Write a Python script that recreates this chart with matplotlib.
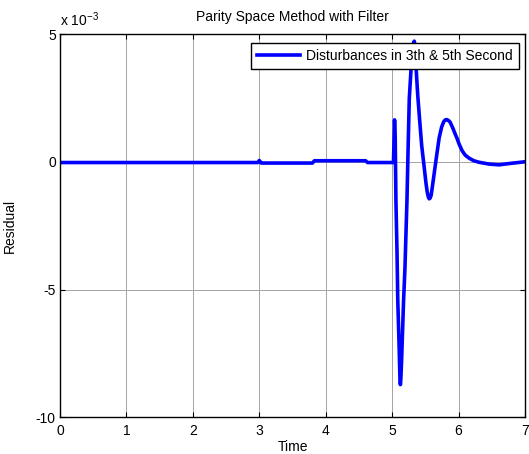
import numpy as np
import matplotlib
matplotlib.use('Agg')
import matplotlib.pyplot as plt
from matplotlib.ticker import FuncFormatter

plt.rcParams['font.family'] = ['Liberation Sans', 'DejaVu Sans']

# residual trace (values in units of 1e-3)
time = [0.0, 2.98, 3.0, 3.03, 3.06, 3.80, 3.83, 4.60, 4.63, 5.02,
        5.028, 5.036, 5.046, 5.057, 5.073, 5.085, 5.107, 5.117, 5.124, 5.132,
        5.142, 5.172, 5.193, 5.208, 5.223, 5.24, 5.258, 5.283, 5.30, 5.318,
        5.333, 5.348, 5.363, 5.386, 5.415, 5.445, 5.483, 5.51, 5.528, 5.545,
        5.558, 5.572, 5.588, 5.618, 5.659, 5.708, 5.745, 5.775, 5.80, 5.825,
        5.85, 5.873, 5.918, 5.95, 5.979, 6.01, 6.054, 6.10, 6.159, 6.23,
        6.309, 6.459, 6.61, 6.76, 7.0]
residual_milli = [-0.03, -0.03, 0.05, -0.05, -0.05, -0.05, 0.04, 0.04, -0.03, -0.03,
                  0.8, 1.64, 1.0, -1.53, -3.48, -5.44, -7.40, -8.45, -8.72, -8.45,
                  -7.79, -5.44, -4.15, -2.82, -1.53, 0.5, 2.47, 3.56, 4.25, 4.62,
                  4.72, 4.52, 3.56, 2.58, 1.60, 0.63, -0.23, -0.85, -1.18, -1.38,
                  -1.45, -1.42, -1.30, -0.74, 0.04, 0.94, 1.36, 1.56, 1.64, 1.65,
                  1.61, 1.55, 1.29, 1.08, 0.90, 0.68, 0.43, 0.26, 0.14, 0.04,
                  -0.02, -0.09, -0.12, -0.07, 0.0]

scale = 1e-3
residual = np.array(residual_milli) * scale

fig = plt.figure(figsize=(5.29, 4.54), dpi=100)
ax = fig.add_axes([60 / 529, 1 - 417.3 / 454, 465 / 529, 383.3 / 454])

ax.plot(time, residual, color='#0000ff', lw=2.6, solid_joinstyle='round',
        label='Disturbances in 3th & 5th Second')

ax.set_xlim(0, 7)
ax.set_ylim(-10 * scale, 5 * scale)
ax.set_xticks(range(0, 8))
ax.set_yticks(np.array([-10, -5, 0, 5]) * scale)
ax.yaxis.set_major_formatter(FuncFormatter(lambda v, p: f'{v / scale:g}'))

ax.grid(True, color='#a4a4a4', lw=0.7)
ax.set_axisbelow(True)
ax.tick_params(direction='in', length=3.5, width=0.8, top=True, right=True,
               labelsize=10)
ax.tick_params(axis='x', pad=5)
ax.tick_params(axis='y', pad=3)
for s in ax.spines.values():
    s.set_linewidth(1.0)

ax.set_title('Parity Space Method with Filter', fontsize=10, pad=9)
ax.set_xlabel('Time', fontsize=10, labelpad=1)
ax.set_ylabel('Residual', fontsize=10, labelpad=14)
ax.text(0.0, 1.012, r'x 10$^{\mathregular{-3}}$', transform=ax.transAxes,
        fontsize=10, ha='left', va='bottom')

leg = ax.legend(loc='upper right', bbox_to_anchor=(0.9877, 0.9773),
                borderaxespad=0, fancybox=False, edgecolor='black',
                framealpha=1, fontsize=10, handlelength=3.1,
                handletextpad=0.45, borderpad=0.45)
leg.get_frame().set_linewidth(1.0)

fig.savefig('out.png', dpi=100)
